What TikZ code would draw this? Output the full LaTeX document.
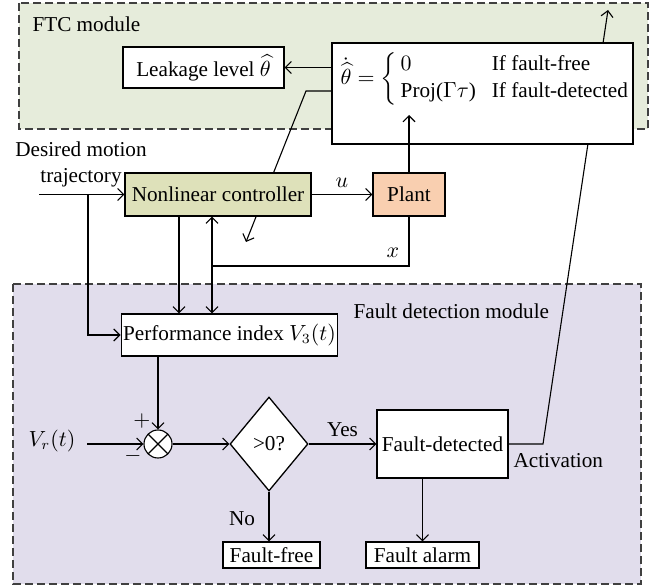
\documentclass[tikz,border=0pt]{standalone}
\usepackage{amsmath}
\usepackage{fontspec}
\setmainfont{Liberation Serif}
\usetikzlibrary{shapes.geometric,arrows.meta}

\definecolor{ftcbg}{RGB}{230,236,219}
\definecolor{fdbg}{RGB}{225,221,236}
\definecolor{ctrlfill}{RGB}{222,225,186}
\definecolor{plantfill}{RGB}{249,207,176}

\begin{document}
\begin{tikzpicture}[x=0.5pt,y=-0.5pt,
   font=\fontsize{10.6}{12.7}\selectfont,
   line width=0.55pt, >={Straight Barb[length=3pt,width=6pt]},
   blk/.style={draw,fill=white,line width=0.65pt,inner sep=1pt},
   lab/.style={inner sep=0pt},
   modbox/.style={draw=black!75,dash pattern=on 4pt off 2pt,line width=0.6pt},
   sumnode/.style={circle,draw,fill=white,minimum size=14pt,inner sep=0pt,
      path picture={\draw (path picture bounding box.north west) -- (path picture bounding box.south east)
                          (path picture bounding box.south west) -- (path picture bounding box.north east);}},
   decide/.style={diamond,draw,fill=white,line width=0.65pt,inner sep=0pt,
      minimum width=39pt,minimum height=47pt}]
\useasboundingbox (0,0) rectangle (653,588);

% module frames
\draw[modbox,fill=ftcbg] (19,3) rectangle (648,129);
\draw[modbox,fill=fdbg] (13,284) rectangle (641,584);
\node[lab,anchor=west] (ftclab) at (32,24) {FTC module};
\node[lab,anchor=west] (fdlab) at (353,311) {Fault detection module};

% activation goes under the eq box
\node[blk,minimum width=65.5pt,minimum height=34pt] (fdet) at (442.5,444) {Fault-detected};
\coordinate (actk) at (543,444);
\coordinate (acttip) at (608,10);
\draw[->] (fdet.east) -- (actk) -- (acttip);
\node[lab,anchor=west] (act) at (513,461) {Activation};

% adaptation law
\node[blk,minimum width=150.5pt,minimum height=50.5pt] (eqbox) at (482.5,93.5) {};
\node[lab,anchor=west] (eqtxt) at (340,79)
   {$\dot{\widehat{\theta}} = \left\{\begin{array}{@{\,}l@{\hspace{8pt}}l}
      0 & \text{If fault-free}\\[1pt]
      \text{Proj(}\Gamma\tau\text{)} & \text{If fault-detected}
    \end{array}\right.$};
\node[blk,minimum width=80.5pt,minimum height=20.5pt] (leak) at (203.5,67.5) {Leakage level $\widehat{\theta}$};
\draw[->] (eqbox.west |- leak) -- (leak.east);
\coordinate (adk) at (306,91);
\coordinate (adtip) at (246,242);
\draw[->] (eqbox.west |- adk) -- (adk) -- (adtip);

% control loop
\node[lab,align=center] (desired) at (81,164.5) {Desired motion\\trajectory};
\node[blk,fill=ctrlfill,minimum width=93pt,minimum height=21.5pt] (ctrl) at (218,194.5) {Nonlinear controller};
\node[blk,fill=plantfill,minimum width=36pt,minimum height=21.5pt] (plant) at (409,194.5) {Plant};
\coordinate (inp) at (39,194.5);
\draw[->] (inp) -- (ctrl.west);
\draw[->] (ctrl) -- node[above] {$u$} (plant);
\coordinate (projtip) at (409,115);
\draw[->] (plant) -- (projtip);

\node[blk,minimum width=106.5pt,minimum height=21pt] (pidx) at (229.5,335) {Performance index $V_3(t)$};
\coordinate (br) at (88,194.5);
\draw[->] (br) |- (pidx.west);
\coordinate (fb) at (212,266);
\draw (plant.south) |- (fb);
\draw[->] (fb) -- (fb |- ctrl.south);
\draw[->] (fb) -- (fb |- pidx.north);
\node[lab] (xlab) at (393,253) {$x$};
\coordinate (cd) at (179,216);
\draw[->] (cd) -- (cd |- pidx.north);

% detection logic
\node[sumnode] (sum) at (158,444) {};
\node[lab] (plus) at (142,421) {$+$};
\node[lab] (minus) at (133,456) {$-$};
\node[lab] (vr) at (52,441) {$V_r(t)$};
\coordinate (vrin) at (87,444);
\draw[->] (sum |- pidx.south) -- (sum);
\draw[->] (vrin) -- (sum);
\node[decide] (dec) at (269,444) {>0?};
\draw[->] (sum) -- (dec);
\draw[->] (dec) -- node[above] {Yes} (fdet);
\node[blk,minimum width=48.5pt,minimum height=13pt] (ffree) at (271.5,555) {Fault-free};
\node[blk,minimum width=56.5pt,minimum height=13pt] (alarm) at (422.5,555) {Fault alarm};
\draw[->] (dec) -- (dec.south |- ffree.north);
\node[lab] (nolab) at (242,519) {No};
\draw[->] (fdet.south -| alarm) -- (alarm);
\end{tikzpicture}
\end{document}
